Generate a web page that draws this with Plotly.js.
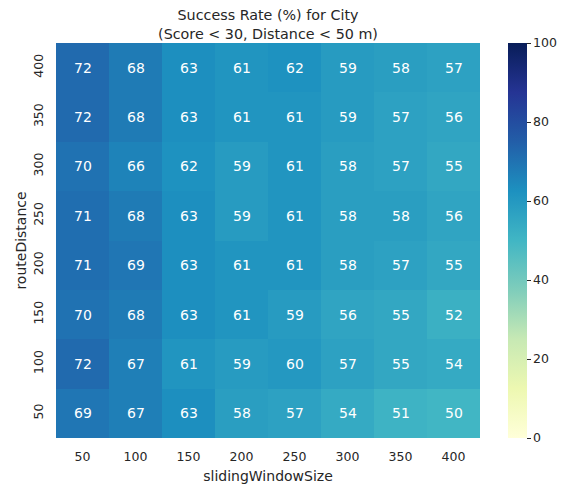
<!DOCTYPE html>
<html>
<head>
<meta charset="utf-8">
<script src="https://cdn.plot.ly/plotly-3.0.1.min.js"></script>
<style>
  html, body { margin: 0; padding: 0; background: #ffffff; }
  #chart { width: 563px; height: 490px; }
</style>
</head>
<body>
<div id="chart"></div>
<script>
// Sliding window sizes (columns) and route distances (rows, bottom to top)
const windowSizes = ['50', '100', '150', '200', '250', '300', '350', '400'];
const routeDistances = ['50', '100', '150', '200', '250', '300', '350', '400'];

// Success rate (%) per route distance, one entry per window size
const rate50  = [69, 67, 63, 58, 57, 54, 51, 50];
const rate100 = [72, 67, 61, 59, 60, 57, 55, 54];
const rate150 = [70, 68, 63, 61, 59, 56, 55, 52];
const rate200 = [71, 69, 63, 61, 61, 58, 57, 55];
const rate250 = [71, 68, 63, 59, 61, 58, 58, 56];
const rate300 = [70, 66, 62, 59, 61, 58, 57, 55];
const rate350 = [72, 68, 63, 61, 61, 59, 57, 56];
const rate400 = [72, 68, 63, 61, 62, 59, 58, 57];

const colorTicks = [0, 20, 40, 60, 80, 100];

const z = [rate50, rate100, rate150, rate200, rate250, rate300, rate350, rate400];

// Yellow-green-blue sequential scale
const ylGnBu = [
  [0.000, '#ffffd9'],
  [0.125, '#edf8b1'],
  [0.250, '#c7e9b4'],
  [0.375, '#7fcdbb'],
  [0.500, '#41b6c4'],
  [0.625, '#1d91c0'],
  [0.750, '#225ea8'],
  [0.875, '#253494'],
  [1.000, '#081d58']
];

const fontFamily = '"DejaVu Sans", "Liberation Sans", sans-serif';
const textColor = '#262626';

const trace = {
  type: 'heatmap',
  x: windowSizes,
  y: routeDistances,
  z: z,
  zmin: 0,
  zmax: 100,
  colorscale: ylGnBu,
  xgap: 0,
  ygap: 0,
  texttemplate: '%{z:.0f}',
  textfont: { family: fontFamily, size: 14, color: '#ffffff' },
  hoverinfo: 'x+y+z',
  colorbar: {
    x: 1.066,
    xanchor: 'left',
    xpad: 0,
    y: 0.5,
    yanchor: 'middle',
    ypad: 0,
    len: 1,
    lenmode: 'fraction',
    thickness: 19,
    thicknessmode: 'pixels',
    outlinewidth: 0,
    tickmode: 'array',
    tickvals: colorTicks,
    ticktext: colorTicks.map(String),
    ticks: 'outside',
    ticklen: 4,
    tickwidth: 1,
    tickcolor: textColor,
    tickfont: { family: fontFamily, size: 12.5, color: textColor }
  }
};

const layout = {
  width: 563,
  height: 490,
  margin: { l: 56, r: 83, t: 43, b: 52, pad: 0, autoexpand: false },
  paper_bgcolor: '#ffffff',
  plot_bgcolor: '#ffffff',
  font: { family: fontFamily, color: textColor },
  title: {
    text: 'Success Rate (%) for City<br>(Score < 30, Distance < 50 m)',
    font: { family: fontFamily, size: 14.3, color: textColor },
    x: 0.5,
    xref: 'paper',
    xanchor: 'center',
    y: 0.959,
    yref: 'container',
    yanchor: 'middle'
  },
  xaxis: {
    type: 'category',
    automargin: false,
    title: { text: 'slidingWindowSize', font: { family: fontFamily, size: 14, color: textColor }, standoff: 8 },
    tickfont: { family: fontFamily, size: 12.5, color: textColor },
    ticks: '',
    showgrid: false,
    zeroline: false,
    showline: false,
    ticklabelstandoff: 9
  },
  yaxis: {
    type: 'category',
    automargin: false,
    title: { text: 'routeDistance', font: { family: fontFamily, size: 14, color: textColor }, standoff: 0 },
    tickfont: { family: fontFamily, size: 12.5, color: textColor },
    tickangle: -90,
    ticks: '',
    showgrid: false,
    zeroline: false,
    showline: false,
    ticklabelstandoff: 10
  }
};

Plotly.newPlot('chart', [trace], layout, { displayModeBar: false, staticPlot: true });
</script>
</body>
</html>
